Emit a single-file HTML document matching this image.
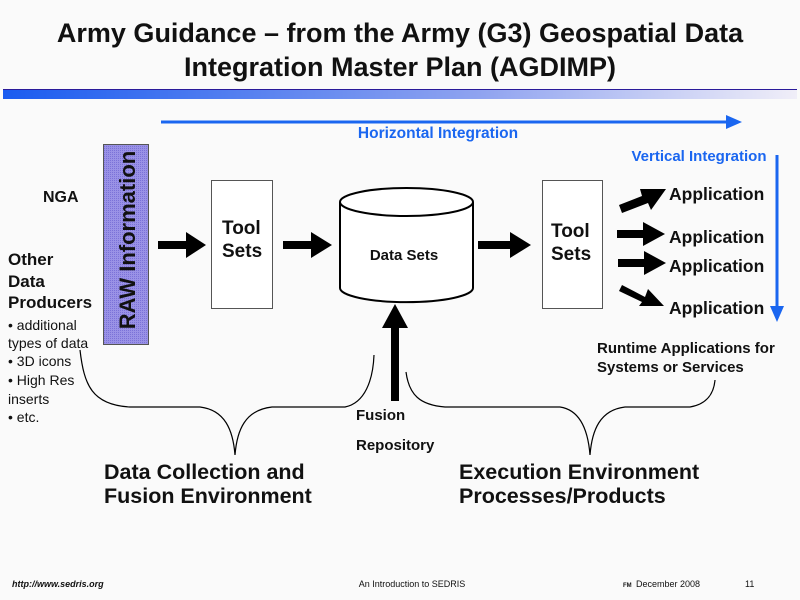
<!DOCTYPE html>
<html><head><style>
body{margin:0;background:#fafafa;}
svg{display:block;font-family:"Liberation Sans",Arial,sans-serif;}
</style></head><body>
<svg width="800" height="600" viewBox="0 0 800 600">
<defs>
<linearGradient id="g" x1="0" x2="1"><stop offset="0" stop-color="#1a5cf0"/><stop offset="0.6" stop-color="#8fa3f0"/><stop offset="1" stop-color="#f0eef8"/></linearGradient>
<pattern id="p" width="2" height="2" patternUnits="userSpaceOnUse"><rect width="2" height="2" fill="#9a92e6"/><rect width="1" height="1" fill="#7b72d8"/></pattern>
</defs>
<rect width="800" height="600" fill="#fafafa"/>
<text x="400" y="42" text-anchor="middle" font-size="27" font-weight="bold" fill="#111">Army Guidance – from the Army (G3) Geospatial Data</text>
<text x="400" y="76" text-anchor="middle" font-size="27" font-weight="bold" fill="#111">Integration Master Plan (AGDIMP)</text>
<rect x="3" y="89" width="794" height="10" fill="url(#g)"/>
<line x1="3" y1="89.5" x2="797" y2="89.5" stroke="#2a1a9a" stroke-width="1"/>
<line x1="161" y1="122" x2="728" y2="122" stroke="#1a66f0" stroke-width="3"/>
<polygon points="726,115 742,122 726,129" fill="#1a66f0"/>
<text x="438" y="138" text-anchor="middle" font-size="15.5" font-weight="bold" fill="#1a66f0">Horizontal Integration</text>
<text x="699" y="161" text-anchor="middle" font-size="15" font-weight="bold" fill="#1a66f0">Vertical Integration</text>
<line x1="777" y1="155" x2="777" y2="308" stroke="#1a66f0" stroke-width="3"/>
<polygon points="770,306 777,322 784,306" fill="#1a66f0"/>
<text x="43" y="202" font-size="16" font-weight="bold" fill="#111">NGA</text>
<g font-size="17" font-weight="bold" fill="#111">
<text x="8" y="265">Other</text><text x="8" y="287">Data</text><text x="8" y="308">Producers</text></g>
<g font-size="14" fill="#111">
<text x="8" y="330">• additional</text><text x="8" y="348">types of data</text><text x="8" y="366">• 3D icons</text><text x="8" y="385">• High Res</text><text x="8" y="404">inserts</text><text x="8" y="422">• etc.</text></g>
<rect x="103.5" y="144.5" width="45" height="200" fill="url(#p)" stroke="#555"/>
<text transform="translate(135,240) rotate(-90)" text-anchor="middle" font-size="22" font-weight="bold" fill="#111">RAW Information</text>
<rect x="211.5" y="180.5" width="61" height="128" fill="#fff" stroke="#555"/>
<text x="222" y="234" font-size="19" font-weight="bold" fill="#111">Tool</text>
<text x="222" y="257" font-size="19" font-weight="bold" fill="#111">Sets</text>
<rect x="542.5" y="180.5" width="60" height="128" fill="#fff" stroke="#555"/>
<text x="551" y="237" font-size="19" font-weight="bold" fill="#111">Tool</text>
<text x="551" y="260" font-size="19" font-weight="bold" fill="#111">Sets</text>
<path d="M340,202 L340,288 A66,14 0 0 0 473,288 L473,202" fill="#fff" stroke="#000" stroke-width="2"/>
<ellipse cx="406.5" cy="202" rx="66.5" ry="14" fill="#fff" stroke="#000" stroke-width="2"/>
<text x="404" y="260" text-anchor="middle" font-size="15" font-weight="bold" fill="#111">Data Sets</text>
<g fill="#000">
<rect x="158" y="241" width="30" height="8"/><polygon points="186,232 206,245 186,258"/>
<rect x="283" y="241" width="30" height="8"/><polygon points="311,232 332,245 311,258"/>
<rect x="478" y="241" width="34" height="8"/><polygon points="510,232 531,245 510,258"/>
<rect x="391" y="325" width="8" height="76"/><polygon points="382,328 395,304 408,328"/>
<polygon points="619,205 642,196 640,189 666,189 651,210 648,203 622,213"/>
<rect x="617" y="230" width="28" height="8"/><polygon points="643,222 665,234 643,246"/>
<rect x="618" y="259" width="28" height="8"/><polygon points="644,251 666,263 644,275"/>
<polygon points="622,285 645,297 648,289 664,306 639,306 642,302 619,291"/>
</g>
<g font-size="17.5" font-weight="bold" fill="#111">
<text x="669" y="200">Application</text><text x="669" y="243">Application</text><text x="669" y="272">Application</text><text x="669" y="314">Application</text></g>
<text x="597" y="353" font-size="15" font-weight="bold" fill="#111">Runtime Applications for</text>
<text x="597" y="372" font-size="15" font-weight="bold" fill="#111">Systems or Services</text>
<g fill="none" stroke="#000" stroke-width="1.2">
<path d="M80,350 C84,385 92,405 130,407 L200,407 C225,410 233,430 235,455 C237,430 245,410 272,407 L345,407 C365,403 373,380 374,355"/>
<path d="M406,372 C409,395 420,405 445,407 L560,407 C580,410 588,430 590,455 C592,430 600,410 625,407 L690,407 C708,404 714,392 715,380"/>
</g>
<text x="356" y="420" font-size="15" font-weight="bold" fill="#111">Fusion</text>
<text x="356" y="450" font-size="15" font-weight="bold" fill="#111">Repository</text>
<g font-size="21.5" font-weight="bold" fill="#111">
<text x="104" y="479">Data Collection and</text><text x="104" y="503">Fusion Environment</text>
<text x="459" y="479">Execution Environment</text><text x="459" y="503">Processes/Products</text></g>
<text x="12" y="587" font-size="9" font-weight="bold" font-style="italic" fill="#111">http://www.sedris.org</text>
<text x="412" y="587" text-anchor="middle" font-size="9" fill="#111">An Introduction to SEDRIS</text>
<text x="623" y="587" font-size="6" font-weight="bold" fill="#111">FM</text>
<text x="636" y="587" font-size="9" fill="#111">December 2008</text>
<text x="745" y="587" font-size="9" fill="#111">11</text>
</svg>
</body></html>
